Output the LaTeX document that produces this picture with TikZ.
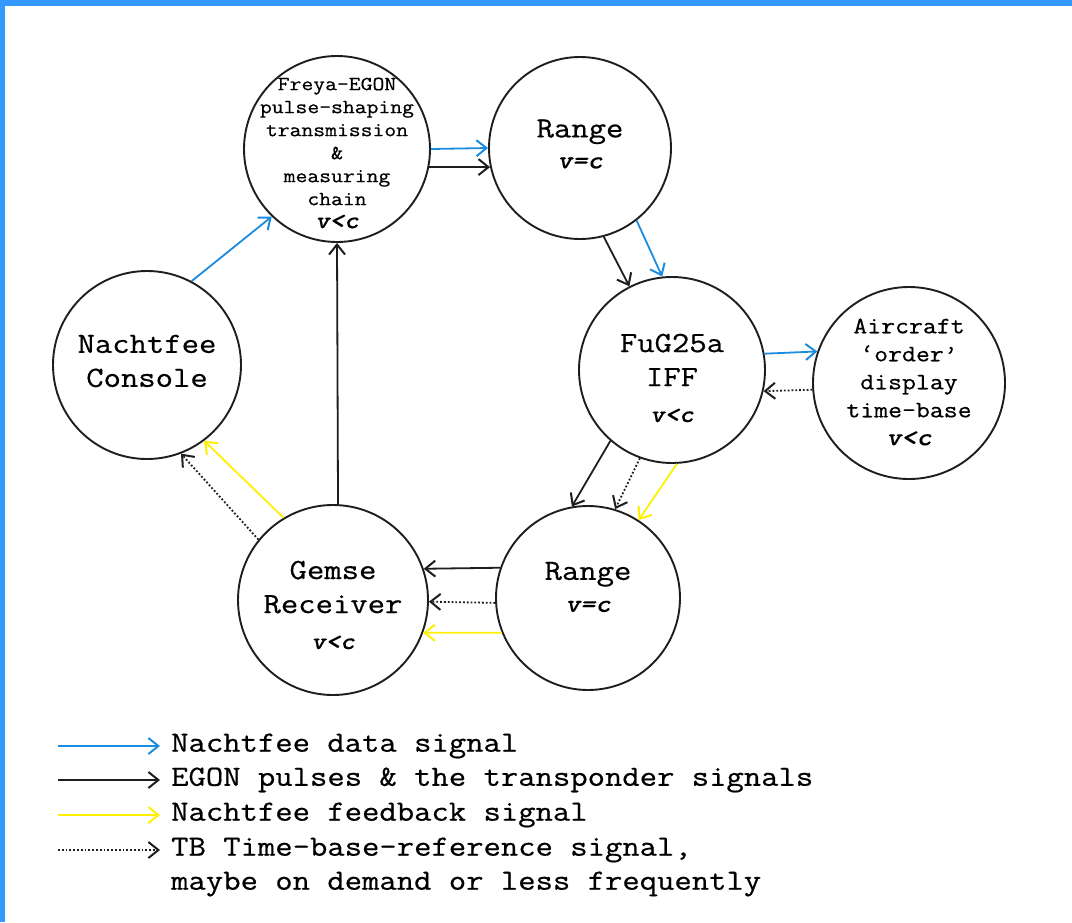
\documentclass[tikz,border=0pt]{standalone}
\usepackage{fontspec}
\setmainfont{Latin Modern Mono}[FakeStretch=1.15,FakeBold=0.6]
\newfontfamily\vlcfont{lmmonolt10-boldoblique.otf}[FakeStretch=1.15,FakeBold=0.4]
\usetikzlibrary{arrows.meta}
\definecolor{frameblue}{RGB}{51,153,255}
\definecolor{sigblue}{RGB}{28,140,222}
\definecolor{sigyellow}{RGB}{255,240,0}
\definecolor{edgegrey}{RGB}{30,30,30}
\tikzset{
  stage/.style={circle,draw=edgegrey,line width=1.9pt,inner sep=0pt},
  stagetext/.style={align=center,inner sep=0pt,font=\fontsize{29.3}{34}\selectfont},
  sig/.style={line width=1.8pt,-{Straight Barb[length=10pt,width=16pt,line width=2pt]}},
  datasig/.style={sig,draw=sigblue},
  egonsig/.style={sig,draw=edgegrey},
  fbsig/.style={sig,draw=sigyellow},
  tbsig/.style={sig,draw=edgegrey,dash pattern=on 1.8pt off 2pt},
  legtext/.style={anchor=west,inner sep=0pt,font=\fontsize{29.3}{34}\selectfont},
}
\newcommand{\vlc}[1]{{\vlcfont #1}}
\begin{document}
\begin{tikzpicture}[x=1pt,y=-1pt]
\useasboundingbox (0,0) rectangle (1072,922);
\fill[white] (0,0) rectangle (1072,922);
\fill[frameblue] (0,0) rectangle (1072,6);
\fill[frameblue] (0,0) rectangle (5,922);

\node[stage,minimum size=186pt] (F) at (337,149) {};
\node[stage,minimum size=182pt] (R1) at (580,148) {};
\node[stage,minimum size=186pt] (FU) at (672,370) {};
\node[stage,minimum size=192pt] (AC) at (909,383) {};
\node[stage,minimum size=184pt] (R2) at (588,598) {};
\node[stage,minimum size=190pt] (G) at (333,600) {};
\node[stage,minimum size=188pt] (N) at (147,365) {};

\node[stagetext,font=\fontsize{20}{23}\selectfont] (Ft) at (337,153)
  {Freya-EGON\\pulse-shaping\\transmission\\\&\\measuring\\chain\\{\fontsize{24}{23}\selectfont\vlc{v<c}}};
\node[stagetext] (R1t) at (580,144) {Range\\[-3pt]{\fontsize{25}{30}\selectfont\vlc{v=c}}};
\node[stagetext] (FUt) at (672,378) {FuG25a\\IFF\\[2pt]{\fontsize{24}{30}\selectfont\vlc{v<c}}};
\node[stagetext,font=\fontsize{23.5}{28}\selectfont] (ACt) at (909,382)
  {Aircraft\\‘order’\\display\\time-base\\{\fontsize{25}{28}\selectfont\vlc{v<c}}};
\node[stagetext] (R2t) at (588,587) {Range\\[-2pt]{\fontsize{25}{30}\selectfont\vlc{v=c}}};
\node[stagetext] (Gt) at (333,605) {Gemse\\Receiver\\[2pt]{\fontsize{24}{30}\selectfont\vlc{v<c}}};
\node[stagetext] (Nt) at (147,361) {Nachtfee\\Console};

% Freya -> Range
\draw[datasig] (F.0.6) -- (R1.180);
\draw[egonsig] (F.-11.8) -- (R1.192.7);
% Range -> FuG
\draw[egonsig] (R1.-75.4) -- (FU.117.7);
\draw[datasig] (R1.-52) -- (FU.96);
% FuG <-> Aircraft
\draw[datasig] (FU.10.5) -- (AC.161.8);
\draw[tbsig] (AC.184.8) -- (FU.-13);
% FuG -> Range
\draw[egonsig] (FU.-131.2) -- (R2.100);
\draw[tbsig] (FU.-110.3) -- (R2.73.9);
\draw[fbsig] (FU.-87.6) -- (R2.57.3);
% Range -> Gemse
\draw[egonsig] (R2.161) -- (G.19.7);
\draw[tbsig] (R2.183.1) -- (G.-1.8);
\draw[fbsig] (R2.202.4) -- (G.-20.3);
% Gemse -> Nachtfee
\draw[fbsig] (G.121.5) -- (N.-53.5);
\draw[tbsig] (G.141.2) -- (N.-69);
% Nachtfee -> Freya
\draw[datasig] (N.62) -- (F.226.7);
% Gemse -> Freya
\draw[egonsig] (G.87.6) -- (F.270);

% legend
\coordinate (l1a) at (58,746); \coordinate (l1b) at (160,746);
\coordinate (l2a) at (58,780); \coordinate (l2b) at (160,780);
\coordinate (l3a) at (58,815); \coordinate (l3b) at (160,815);
\coordinate (l4a) at (58,850); \coordinate (l4b) at (160,850);
\draw[datasig] (l1a) -- (l1b);
\draw[egonsig] (l2a) -- (l2b);
\draw[fbsig] (l3a) -- (l3b);
\draw[tbsig] (l4a) -- (l4b);
\node[legtext] (t1) at (171,746) {Nachtfee data signal};
\node[legtext] (t2) at (171,780) {EGON pulses \& the transponder signals};
\node[legtext] (t3) at (171,815) {Nachtfee feedback signal};
\node[legtext] (t4) at (171,850) {TB Time-base-reference signal,};
\node[legtext] (t5) at (171,884) {maybe on demand or less frequently};
\end{tikzpicture}
\end{document}
